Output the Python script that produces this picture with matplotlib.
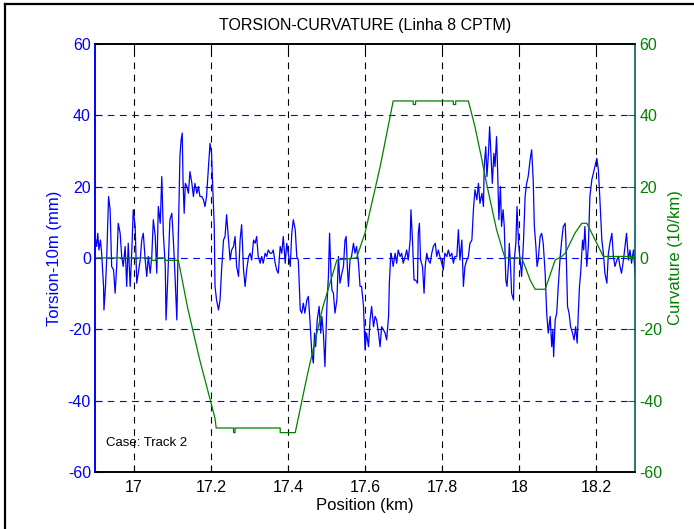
import numpy as np
import matplotlib
matplotlib.use('Agg')
import matplotlib.pyplot as plt
from matplotlib.lines import Line2D

plt.rcParams['font.family'] = ['Liberation Sans', 'DejaVu Sans']
plt.rcParams['axes.unicode_minus'] = False

# torsion (blue, left axis)
pos_km = [
    16.900, 16.904, 16.907, 16.910, 16.914, 16.917, 16.922, 16.923, 16.927, 16.930,
    16.935, 16.939, 16.943, 16.948, 16.952, 16.956, 16.960, 16.965, 16.969, 16.973,
    16.978, 16.982, 16.986, 16.991, 16.995, 16.999, 17.004, 17.008, 17.012, 17.017,
    17.021, 17.025, 17.030, 17.034, 17.038, 17.043, 17.047, 17.051, 17.056, 17.060,
    17.064, 17.069, 17.073, 17.077, 17.082, 17.084, 17.088, 17.094, 17.099, 17.103,
    17.107, 17.112, 17.116, 17.120, 17.123, 17.126, 17.128, 17.131, 17.134,
    17.138, 17.142, 17.146, 17.151, 17.155, 17.159, 17.164, 17.168, 17.172, 17.177,
    17.181, 17.185, 17.189, 17.194, 17.198, 17.202, 17.205, 17.209, 17.211, 17.215,
    17.220, 17.224, 17.228, 17.233, 17.237, 17.241, 17.246, 17.250, 17.254, 17.259,
    17.263, 17.267, 17.272, 17.276, 17.280, 17.285, 17.289, 17.293, 17.298, 17.302,
    17.306, 17.311, 17.315, 17.319, 17.323, 17.328, 17.332, 17.336, 17.341, 17.345,
    17.349, 17.354, 17.358, 17.362, 17.367,
    17.371, 17.375, 17.380, 17.384, 17.388, 17.393, 17.397, 17.401, 17.406, 17.410,
    17.414, 17.419, 17.423, 17.427, 17.432, 17.436, 17.440, 17.444, 17.449, 17.453,
    17.457, 17.462, 17.466, 17.469, 17.472, 17.476, 17.481, 17.485, 17.488, 17.492,
    17.496, 17.501, 17.505, 17.508, 17.511, 17.514, 17.518, 17.522, 17.527, 17.531,
    17.535, 17.540, 17.544, 17.548, 17.551, 17.554, 17.557, 17.561, 17.565, 17.570,
    17.574, 17.578, 17.583, 17.587, 17.591, 17.596, 17.600,
    17.604, 17.609, 17.613, 17.617, 17.622, 17.626, 17.630, 17.635, 17.639, 17.643,
    17.648, 17.652, 17.656, 17.661, 17.663, 17.667, 17.669, 17.673, 17.678, 17.682,
    17.686, 17.691, 17.695, 17.699, 17.704, 17.708, 17.712, 17.717, 17.719, 17.723,
    17.727, 17.731, 17.736, 17.738, 17.741, 17.744, 17.749, 17.753, 17.756, 17.760,
    17.764, 17.769, 17.773, 17.777, 17.782, 17.786, 17.790, 17.794, 17.799, 17.803,
    17.807, 17.812, 17.816, 17.820, 17.825, 17.829, 17.833,
    17.838, 17.842, 17.846, 17.851, 17.855, 17.859, 17.864, 17.868, 17.872, 17.877,
    17.881, 17.885, 17.890, 17.894, 17.898, 17.903, 17.907, 17.909, 17.913, 17.916,
    17.920, 17.923, 17.927, 17.930, 17.934, 17.937, 17.941, 17.944, 17.947, 17.951,
    17.954, 17.958, 17.961, 17.965, 17.968, 17.972, 17.974, 17.978, 17.980, 17.985,
    17.987, 17.991, 17.994, 17.998, 18.002, 18.006, 18.011, 18.015, 18.019, 18.023,
    18.028, 18.032, 18.036, 18.039, 18.043, 18.046, 18.049, 18.054, 18.058, 18.062,
    18.067,
    18.071, 18.075, 18.080, 18.084, 18.087, 18.089, 18.093, 18.097, 18.101, 18.106,
    18.110, 18.114, 18.119, 18.121, 18.125, 18.129, 18.133, 18.138, 18.142, 18.146,
    18.150, 18.153, 18.156, 18.159, 18.164, 18.167, 18.170, 18.175, 18.179, 18.183,
    18.188, 18.192, 18.196, 18.201, 18.205, 18.209, 18.214, 18.218, 18.222, 18.227,
    18.231, 18.235, 18.240, 18.244, 18.248, 18.253, 18.257, 18.261, 18.265, 18.270,
    18.274, 18.278, 18.283, 18.287, 18.291, 18.296, 18.300,
]
torsion_mm = [
    6.0, 3.2, 6.9, 2.2, 5.0, 1.3, -8.0, -14.6, -8.0, -0.6,
    17.2, 13.5, -2.4, -3.4, -9.9, -2.4, 9.7, 6.9, 0.4, -2.4,
    3.2, -8.0, 4.1, -8.0, 1.3, 13.5, 8.8, -7.1, -4.3, -0.6,
    5.0, 6.9, -0.6, -5.2, 0.4, -4.3, 0.4, 10.7, 6.0, -4.3,
    14.4, 9.7, 22.8, 6.9, -2.4, -17.4, -7.1, 10.7, 12.5, 5.0,
    -4.3, -17.4, 6.9, 28.4, 33.0, 35.0, 21.9, 12.5, 20.9,
    20.0, 18.1, 24.2, 20.9, 17.2, 20.9, 18.1, 20.0, 17.2, 17.2,
    16.3, 14.4, 17.2, 25.6, 32.1, 29.3, 20.0, 8.8, -8.0, -11.8,
    -14.6, -11.8, -3.4, 5.0, 6.0, 12.1, 5.0, -0.6, 2.2, 3.2,
    6.0, -2.4, -5.2, 5.0, 9.3, -3.4, -8.0, -3.4, 0.4, 1.3,
    -0.6, 5.0, 4.1, 6.0, 0.4, -1.5, 0.4, -1.5, 1.3, 0.4,
    2.2, 1.3, 1.3, 2.2, -1.5,
    -3.4, -4.3, 3.2, 1.3, 6.0, -1.5, 4.1, 1.3, -2.4, 6.9,
    10.7, 7.9, 0.4, -0.6, -14.6, -15.5, -12.7, -15.5, -11.8, -10.8,
    -17.4, -26.7, -29.5, -21.1, -24.9, -17.4, -13.6, -21.1, -16.4, -21.1,
    -30.5, -13.6, -5.2, 6.9, -2.4, -9.0, -9.9, -15.5, -11.8, 0.4,
    -7.1, -4.3, -2.4, 5.0, 6.0, -2.4, -8.0, -0.6, 0.4, 4.1,
    1.3, 3.2, -1.5, -8.0, -8.0, -13.6, -25.8,
    -21.1, -24.9, -17.4, -13.6, -19.3, -16.4, -17.4, -21.1, -24.9, -19.3,
    -20.2, -21.1, -23.0, -16.4, -7.1, 1.3, 0.4, -2.4, 1.3, -1.5,
    2.2, 0.4, 1.3, -1.5, 0.4, 2.2, -0.6, 5.0, 13.5, 5.0,
    -6.2, -6.2, -7.1, 6.9, 9.7, -0.6, -2.4, -9.9, -2.4, 1.3,
    -0.6, -1.5, 1.3, 3.2, 4.1, 0.4, 2.2, 0.4, -1.5, -3.4,
    1.3, 0.4, 2.2, 0.4, 1.3, -1.5, 0.4,
    0.4, 7.9, -0.6, 5.0, -8.0, -2.4, -0.6, 0.4, 4.1, 5.0,
    13.5, 19.1, 16.3, 20.9, 15.3, 18.1, 14.4, 25.6, 31.2, 22.8,
    29.3, 36.8, 27.5, 20.9, 29.3, 25.6, 34.0, 23.7, 10.7, 20.0,
    8.8, 13.5, 8.8, -6.2, -8.0, -1.5, 4.1, -4.3, -9.9, -11.8,
    -0.6, 4.1, 14.4, 4.1, -0.6, -5.2, 5.0, 17.2, 20.9, 22.8,
    27.5, 30.3, 21.9, 8.8, 3.2, -2.4, -0.6, 6.0, 6.9, 4.1,
    -4.3,
    -15.5, -21.1, -16.4, -24.9, -20.2, -27.7, -17.4, -15.5, -8.0, 0.4,
    5.0, 8.8, 9.7, 4.1, -13.6, -15.5, -19.3, -21.1, -23.0, -19.3,
    -23.9, -15.5, -8.0, -4.3, 5.0, 2.2, 8.8, -2.4, 3.2, 17.2,
    21.9, 23.7, 25.6, 27.9, 24.7, 16.3, 5.0, 1.3, -4.3, -7.1,
    1.3, 4.1, 6.9, 0.4, -2.4, -0.6, 0.4, -2.4, -4.3, -0.6,
    3.2, 6.9, -0.6, 2.2, -1.5, 2.2, -4.3,
]

# curvature (green, right axis) breakpoints
curv_km = [16.900, 17.047, 17.047, 17.058, 17.058, 17.081, 17.081, 17.116,
           17.140, 17.170, 17.211, 17.214, 17.259, 17.259, 17.263, 17.263,
           17.380, 17.380, 17.419, 17.450, 17.490, 17.527, 17.578, 17.600,
           17.640, 17.673, 17.725, 17.725, 17.731, 17.731, 17.829, 17.829,
           17.835, 17.835, 17.868, 17.885, 17.903, 17.915, 17.928, 17.941,
           17.959, 17.963, 18.006, 18.015, 18.028, 18.041, 18.067, 18.093,
           18.110, 18.119, 18.144, 18.162, 18.175, 18.188, 18.205, 18.218,
           18.300]
curv_val = [0.0, 0.0, -0.7, -0.7, 0.0, 0.0, -0.7, -0.7,
            -14.0, -28.0, -45.0, -47.7, -47.7, -49.0, -49.0, -47.7,
            -47.7, -49.0, -49.0, -33.0, -14.0, -0.6, 0.0, 7.0,
            26.0, 44.0, 44.0, 43.0, 43.0, 44.0, 44.0, 43.0,
            43.0, 44.0, 44.0, 36.8, 27.5, 20.9, 14.4, 7.9,
            1.3, 0.0, 0.0, -2.4, -6.2, -8.8, -8.8, -0.6,
            0.4, 1.3, 6.9, 9.7, 9.7, 6.9, 3.2, 0.4,
            0.4]

xticks = [17, 17.2, 17.4, 17.6, 17.8, 18, 18.2]
xticklabels = ['17', '17.2', '17.4', '17.6', '17.8', '18', '18.2']
yticks = [-60, -40, -20, 0, 20, 40, 60]

blue = (0, 0, 1)
green = (0, 0.5, 0)

fig = plt.figure(figsize=(6.94, 5.29), dpi=100)
ax = fig.add_axes([0.137, 0.108, 0.778, 0.809])
ax2 = ax.twinx()

ax.plot(pos_km, torsion_mm, color=blue, lw=0.9)
ax2.plot(curv_km, curv_val, color=green, lw=0.9)

ax.set_xlim(16.9, 18.3)
ax.set_ylim(-60, 60)
ax2.set_ylim(-60, 60)
ax.set_xticks(xticks)
ax.set_xticklabels(xticklabels)
ax.set_yticks(yticks)
ax2.set_yticks(yticks)

# grid lines (MATLAB style)
dash = (0, (6, 5))
for xv in xticks:
    ax.axvline(xv, color='k', lw=0.8, ls=dash, zorder=0.5)
for yv in yticks[1:-1]:
    ax.axhline(yv, color=blue, lw=0.8, ls=dash, zorder=0.5)

ax.tick_params(axis='x', direction='in', top=True, length=5, labelsize=11.5, pad=6)
ax.tick_params(axis='y', direction='in', length=5, colors=blue, labelsize=11.5, pad=3)
ax2.tick_params(axis='y', direction='in', length=5, colors=green, labelsize=11.5, pad=3)

ax.spines['left'].set_color(blue)
ax2.spines['left'].set_color(blue)
ax2.spines['right'].set_color('#00605f')
ax.spines['right'].set_visible(False)
for sp in ['top', 'bottom']:
    ax.spines[sp].set_color('k')
    ax2.spines[sp].set_color('k')
for a in (ax, ax2):
    for sp in a.spines.values():
        sp.set_linewidth(1.2)

ax.set_title('TORSION-CURVATURE (Linha 8 CPTM)', fontsize=11.5, pad=10)
ax.set_xlabel('Position (km)', fontsize=12, labelpad=2)
ax.set_ylabel('Torsion-10m (mm)', fontsize=12, color=blue, labelpad=4)
ax2.set_ylabel('Curvature (10/km)', fontsize=12, color=green, labelpad=4)

ax.text(16.928, -52, 'Case: Track 2', fontsize=9.5, va='center', ha='left')

# outer frame (only left and top edges visible)
fig.add_artist(Line2D([0.0065, 0.0065], [0, 0.992], transform=fig.transFigure, color='k', lw=1.6))
fig.add_artist(Line2D([0.0065, 1.0], [0.992, 0.992], transform=fig.transFigure, color='k', lw=1.6))

fig.savefig('out.png', dpi=100)
